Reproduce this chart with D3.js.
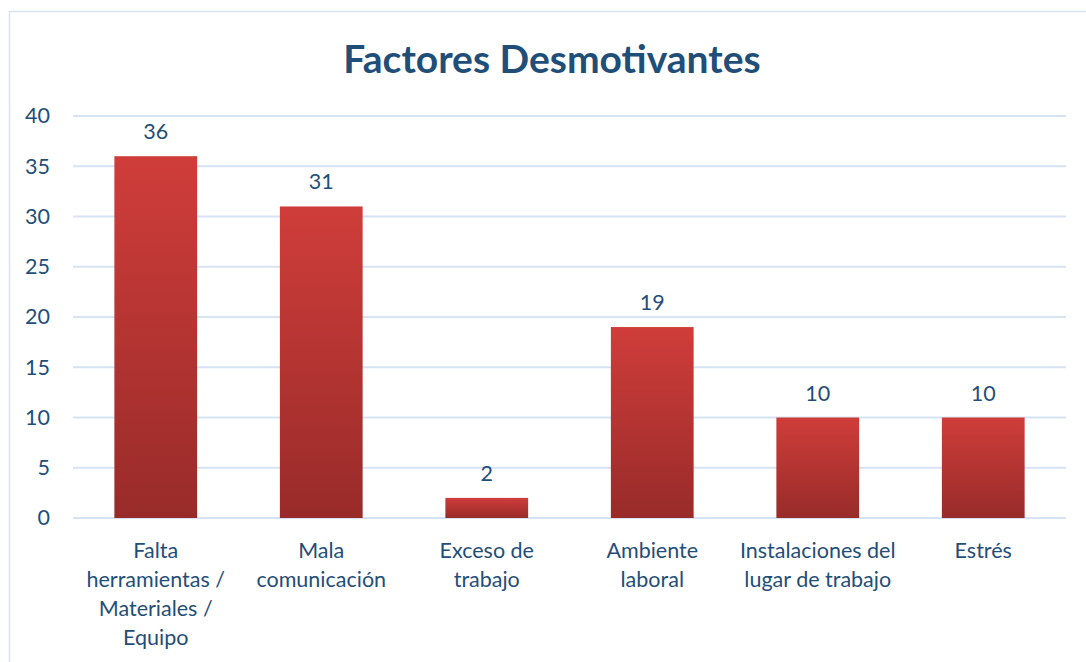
<!DOCTYPE html>
<html>
<head>
<meta charset="utf-8">
<script src="https://cdn.jsdelivr.net/npm/d3@7"></script>
<style>
  body { margin: 0; background: #fff; }
  text { font-family: Lato, "Liberation Sans", sans-serif; fill: #1f4e79; }
</style>
</head>
<body>
<script>
'use strict'

const categories = [
  ['Falta', 'herramientas /', 'Materiales /', 'Equipo'],
  ['Mala', 'comunicación'],
  ['Exceso de', 'trabajo'],
  ['Ambiente', 'laboral'],
  ['Instalaciones del', 'lugar de trabajo'],
  ['Estrés']
]
const values = [36, 31, 2, 19, 10, 10]
const yTicks = [0, 5, 10, 15, 20, 25, 30, 35, 40]
const title = 'Factores Desmotivantes'

const width = 1086, height = 662
const plot = {left: 73, right: 1066, top: 116, bottom: 518}
const fontSize = 21.5

const svg = d3.select('body').append('svg')
  .attr('width', width)
  .attr('height', height)

const defs = svg.append('defs')
const grad = defs.append('linearGradient')
  .attr('id', 'barGrad')
  .attr('x1', 0).attr('y1', 0).attr('x2', 0).attr('y2', 1)
grad.append('stop').attr('offset', '0%').attr('stop-color', '#cf3d3a')
grad.append('stop').attr('offset', '100%').attr('stop-color', '#982b29')

// chart border
svg.append('rect')
  .attr('x', 9.5).attr('y', 11.5)
  .attr('width', 1100).attr('height', 700)
  .attr('fill', 'none')
  .attr('stroke', '#d6e3f5')
  .attr('stroke-width', 1.5)

svg.append('text')
  .attr('x', 552).attr('y', 73)
  .attr('text-anchor', 'middle')
  .attr('font-size', 39)
  .attr('font-weight', 'bold')
  .style('fill', '#1f4e79')
  .text(title)

const x = d3.scaleBand()
  .domain(d3.range(categories.length))
  .range([plot.left, plot.right])
  .paddingInner(0.5)
  .paddingOuter(0.25)

const y = d3.scaleLinear()
  .domain([0, 40])
  .range([plot.bottom, plot.top])

const g = svg.append('g')

// gridlines
g.append('g')
  .selectAll('line')
  .data(yTicks)
  .enter()
  .append('line')
  .attr('x1', plot.left).attr('x2', plot.right)
  .attr('y1', d => y(d)).attr('y2', d => y(d))
  .attr('stroke', '#d6e3f5')
  .attr('stroke-width', 2)

// y axis labels
const yAxis = d3.axisLeft(y).tickValues(yTicks).tickSize(0).tickPadding(23)
g.append('g')
  .attr('transform', 'translate(' + [plot.left, 0] + ')')
  .call(yAxis)
  .call(s => s.select('.domain').remove())
  .selectAll('text')
  .attr('font-size', fontSize)
  .style('fill', '#1f4e79')
  .style('font-family', 'Lato, sans-serif')

// bars
g.append('g')
  .selectAll('rect')
  .data(values)
  .enter()
  .append('rect')
  .attr('x', (d, i) => x(i))
  .attr('width', x.bandwidth())
  .attr('y', d => y(d))
  .attr('height', d => y(0) - y(d))
  .attr('fill', 'url(#barGrad)')

// value labels
g.append('g')
  .selectAll('text')
  .data(values)
  .enter()
  .append('text')
  .attr('x', (d, i) => x(i) + x.bandwidth() / 2)
  .attr('y', d => y(d) - 17)
  .attr('text-anchor', 'middle')
  .attr('font-size', fontSize)
  .text(d => d)

// category labels
const cat = g.append('g')
  .selectAll('text')
  .data(categories)
  .enter()
  .append('text')
  .attr('x', (d, i) => x(i) + x.bandwidth() / 2)
  .attr('y', 558)
  .attr('text-anchor', 'middle')
  .attr('font-size', fontSize)

cat.selectAll('tspan')
  .data(d => d)
  .enter()
  .append('tspan')
  .attr('x', function () { return d3.select(this.parentNode).attr('x') })
  .attr('dy', (d, i) => i === 0 ? 0 : 29)
  .text(d => d)
</script>
</body>
</html>
